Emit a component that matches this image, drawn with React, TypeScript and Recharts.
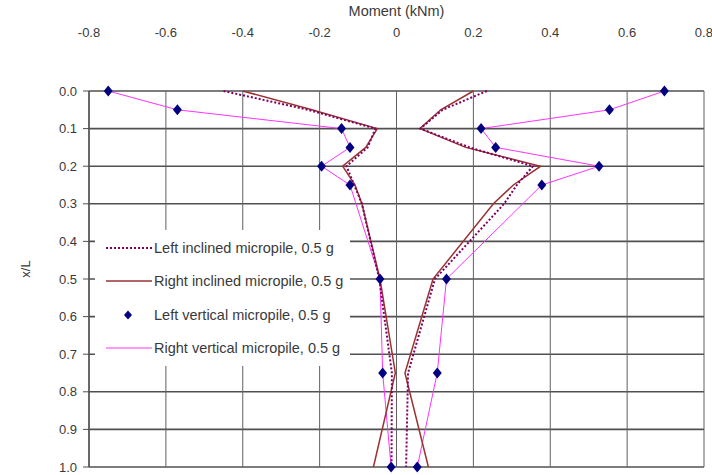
import { ScatterChart, Scatter, XAxis, YAxis, CartesianGrid, Legend } from 'recharts';

// axis ticks
const momentTicks = [-0.8, -0.6, -0.4, -0.2, 0, 0.2, 0.4, 0.6, 0.8];
const depthTicks = [0, 0.1, 0.2, 0.3, 0.4, 0.5, 0.6, 0.7, 0.8, 0.9, 1.0];

// vertical micropiles (x/L, moment envelope min / max)
const vertDepth = [0, 0.05, 0.1, 0.15, 0.2, 0.25, 0.5, 0.75, 1.0];
const vertMin = [-0.75, -0.57, -0.143, -0.121, -0.195, -0.121, -0.043, -0.036, -0.014];
const vertMax = [0.697, 0.554, 0.22, 0.258, 0.527, 0.378, 0.13, 0.106, 0.054];

// inclined micropiles
const inclDepth = [0, 0.05, 0.1, 0.15, 0.2, 0.25, 0.3, 0.5, 0.75, 1.0];
const leftInclMin = [-0.45, -0.23, -0.055, -0.075, -0.13, -0.11, -0.09, -0.045, -0.012, -0.013];
const leftInclMax = [0.235, 0.12, 0.062, 0.19, 0.355, 0.313, 0.28, 0.1, 0.03, 0.025];
const rightInclMin = [-0.4, -0.22, -0.05, -0.08, -0.14, -0.108, -0.09, -0.043, -0.003, -0.06];
const rightInclMax = [0.2, 0.115, 0.061, 0.18, 0.375, 0.304, 0.252, 0.095, 0.022, 0.083];

const seriesNames = [
  'Left inclined micropile, 0.5 g',
  'Right inclined micropile, 0.5 g',
  'Left vertical micropile, 0.5 g',
  'Right vertical micropile, 0.5 g',
];

const PINK = '#ff33ff';
const BROWN = '#993333';
const PURPLE = '#800060';
const NAVY = '#000080';
const TEXT = '#3a3a3a';

const toPoints = (depth: number[], moment: number[]) =>
  depth.map((d, i) => ({ d, m: moment[i] }));

const noDot = () => <g />;

const diamond = (p: any) => (
  <path
    d={`M${p.cx},${p.cy - 5.5}L${p.cx + 4.5},${p.cy}L${p.cx},${p.cy + 5.5}L${p.cx - 4.5},${p.cy}Z`}
    fill={NAVY}
  />
);

function LegendBox() {
  const swatch = (i: number) => {
    if (i === 0) return <line x1={2} y1={6} x2={48} y2={6} stroke={PURPLE} strokeWidth={2} strokeDasharray="2 2" />;
    if (i === 1) return <line x1={2} y1={6} x2={48} y2={6} stroke={BROWN} strokeWidth={1.5} />;
    if (i === 2) return <path d="M24,1.5L28,6L24,10.5L20,6Z" fill={NAVY} />;
    return <line x1={2} y1={6} x2={48} y2={6} stroke={PINK} strokeWidth={1} />;
  };
  return (
    <div style={{ background: '#fff', width: 255, height: 136, paddingTop: 1, boxSizing: 'border-box' }}>
      {seriesNames.map((name) => (
        <div key={name} style={{ display: 'flex', alignItems: 'center', height: 33.5 }}>
          <svg width={50} height={12} style={{ marginLeft: 9 }}>{swatch(seriesNames.indexOf(name))}</svg>
          <span style={{ fontSize: 14.5, color: TEXT, whiteSpace: 'nowrap' }}>{name}</span>
        </div>
      ))}
    </div>
  );
}

export default function App() {
  return (
    <div style={{ position: 'absolute', left: 0, top: 0, background: '#fff', fontFamily: '"Liberation Sans", Arial, sans-serif' }}>
      <ScatterChart width={712} height={475} margin={{ top: 0, right: 8, bottom: 8, left: 9 }}>
        <CartesianGrid vertical={false} stroke="#505050" strokeWidth={1.6} />
        <CartesianGrid horizontal={false} stroke="#606060" strokeWidth={1} />
        <XAxis
          type="number"
          dataKey="m"
          orientation="top"
          domain={[-0.8, 0.8]}
          ticks={momentTicks}
          height={91}
          axisLine={false}
          tickLine={false}
          tickSize={0}
          tickMargin={54}
          tickFormatter={(v: number) => (v === 0 ? '0' : String(v))}
          tick={{ fontSize: 13, fill: TEXT }}
          label={{ value: 'Moment (kNm)', position: 'insideTop', offset: 6, fontSize: 14.5, fill: TEXT }}
        />
        <YAxis
          type="number"
          dataKey="d"
          reversed
          domain={[0, 1]}
          ticks={depthTicks}
          width={80}
          axisLine={{ stroke: '#505050', strokeWidth: 1.5 }}
          tickLine={{ stroke: '#505050' }}
          tickSize={6}
          tickMargin={6}
          tickFormatter={(v: number) => v.toFixed(1)}
          tick={{ fontSize: 13, fill: TEXT }}
          label={() => (
            <text x={25} y={269} transform="rotate(-90 25 269)" textAnchor="middle" dominantBaseline="central" fontSize={13} fill={TEXT}>
              x/L
            </text>
          )}
        />
        <Legend
          layout="vertical"
          align="center"
          verticalAlign="middle"
          content={() => <LegendBox />}
          wrapperStyle={{ position: 'absolute', left: 95, top: 230, width: 255, height: 136 }}
        />
        <Scatter data={toPoints(vertDepth, vertMin)} shape={noDot} line={{ stroke: PINK, strokeWidth: 1 }} isAnimationActive={false} />
        <Scatter data={toPoints(vertDepth, vertMax)} shape={noDot} line={{ stroke: PINK, strokeWidth: 1 }} isAnimationActive={false} />
        <Scatter data={toPoints(inclDepth, rightInclMin)} shape={noDot} line={{ stroke: BROWN, strokeWidth: 1.5 }} isAnimationActive={false} />
        <Scatter data={toPoints(inclDepth, rightInclMax)} shape={noDot} line={{ stroke: BROWN, strokeWidth: 1.5 }} isAnimationActive={false} />
        <Scatter data={toPoints(inclDepth, leftInclMin)} shape={noDot} line={{ stroke: PURPLE, strokeWidth: 2, strokeDasharray: '2 2' }} isAnimationActive={false} />
        <Scatter data={toPoints(inclDepth, leftInclMax)} shape={noDot} line={{ stroke: PURPLE, strokeWidth: 2, strokeDasharray: '2 2' }} isAnimationActive={false} />
        <Scatter data={toPoints(vertDepth, vertMin)} shape={diamond} isAnimationActive={false} />
        <Scatter data={toPoints(vertDepth, vertMax)} shape={diamond} isAnimationActive={false} />
      </ScatterChart>
    </div>
  );
}
